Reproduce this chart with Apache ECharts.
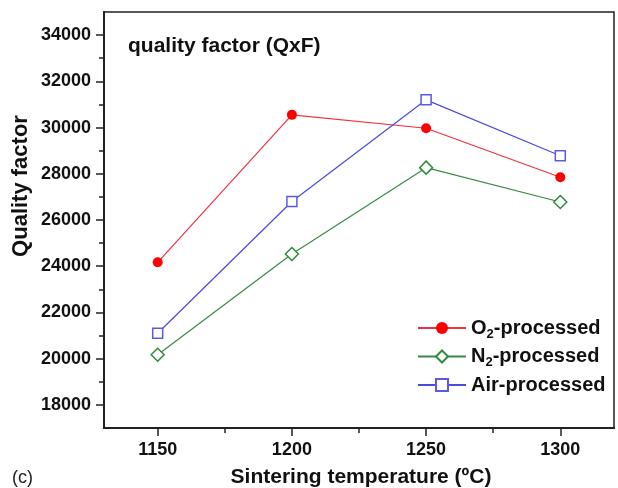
<!DOCTYPE html>
<html>
<head>
<meta charset="utf-8">
<script src="https://cdn.jsdelivr.net/npm/echarts@6/dist/echarts.min.js"></script>
<style>
    html, body { margin: 0; padding: 0; background: #fff; }
    #chart { width: 618px; height: 488px; }
</style>
</head>
<body>
<div id="chart"></div>
<script>
    // 烧结温度 (x 轴)
    let temperatures = [1150, 1200, 1250, 1300];
    // 三种气氛下的品质因数
    let o2Values = [24170, 30550, 29970, 27850];
    let n2Values = [20170, 24530, 28265, 26780];
    let airValues = [21100, 26800, 31200, 28780];

    // 刻度
    let xLabelTicks = [1150, 1200, 1250, 1300];
    let xMinorTicks = [1175, 1225, 1275];
    let yLabelTicks = [18000, 20000, 22000, 24000, 26000, 28000, 30000, 32000, 34000];
    let yMinorTicks = [19000, 21000, 23000, 25000, 27000, 29000, 31000, 33000];

    let font = 'Liberation Sans, Arial, Helvetica, sans-serif';

    function pairs(values) {
        return temperatures.map(function (t, i) { return [t, values[i]]; });
    }

    function plain(v) {
        return String(v);
    }

    let baseX = {
        type: 'value', min: 1130, max: 1320, position: 'bottom', offset: 0,
        splitLine: {show: false},
        axisLine: {show: true, onZero: false, lineStyle: {color: '#222', width: 2}}
    };
    let baseY = {
        type: 'value', min: 17000, max: 35000, position: 'left', offset: 0,
        splitLine: {show: false},
        axisLine: {show: true, onZero: false, lineStyle: {color: '#222', width: 2}}
    };

    let chart = echarts.init(document.getElementById('chart'), null, {renderer: 'canvas'});
    chart.setOption({
        animation: false,
        backgroundColor: '#fff',
        grid: {
            left: 104, right: 4, top: 12, bottom: 60,
            show: true, borderColor: '#222', borderWidth: 1.5
        },
        title: {
            text: 'quality factor (QxF)',
            left: 123, top: 31,
            textStyle: {fontFamily: font, fontSize: 21, fontWeight: 'bold', color: '#111'}
        },
        legend: {
            orient: 'vertical',
            left: 412, top: 313,
            itemWidth: 48, itemHeight: 15, itemGap: 6,
            textStyle: {
                fontFamily: font, fontSize: 20, fontWeight: 'bold', color: '#111',
                rich: {
                    sub: {fontFamily: font, fontSize: 13, fontWeight: 'bold', color: '#111', verticalAlign: 'bottom', padding: [12, 0, 0, 0]}
                }
            },
            formatter: function (name) {
                if (name === 'O2-processed') return 'O{sub|2}-processed';
                if (name === 'N2-processed') return 'N{sub|2}-processed';
                return name;
            },
            data: ['O2-processed', 'N2-processed', 'Air-processed']
        },
        xAxis: [
            Object.assign({}, baseX, {
                axisTick: {show: true, inside: false, length: 8, customValues: xLabelTicks, lineStyle: {color: '#222', width: 1.5}},
                axisLabel: {
                    show: true, margin: 13, customValues: xLabelTicks, formatter: plain,
                    fontFamily: font, fontSize: 18, fontWeight: 'bold', color: '#111'
                }
            }),
            Object.assign({}, baseX, {
                axisTick: {show: true, inside: false, length: 5, customValues: xMinorTicks, lineStyle: {color: '#222', width: 1.5}},
                axisLabel: {show: false}
            })
        ],
        yAxis: [
            Object.assign({}, baseY, {
                axisTick: {show: true, inside: false, length: 8, customValues: yLabelTicks, lineStyle: {color: '#222', width: 1.5}},
                axisLabel: {
                    show: true, margin: 13, customValues: yLabelTicks, formatter: plain,
                    fontFamily: font, fontSize: 18, fontWeight: 'bold', color: '#111'
                }
            }),
            Object.assign({}, baseY, {
                axisTick: {show: true, inside: false, length: 5, customValues: yMinorTicks, lineStyle: {color: '#222', width: 1.5}},
                axisLabel: {show: false}
            })
        ],
        graphic: [
            {
                type: 'text', x: 21, y: 186, rotation: Math.PI / 2,
                style: {
                    text: 'Quality factor', font: 'bold 22px ' + font, fill: '#111',
                    textAlign: 'center', textVerticalAlign: 'middle'
                }
            },
            {
                type: 'text', x: 361, y: 477,
                style: {
                    text: 'Sintering temperature (ºC)', font: 'bold 21px ' + font, fill: '#111',
                    textAlign: 'center', textVerticalAlign: 'middle'
                }
            },
            {
                type: 'text', x: 12, y: 478,
                style: {text: '(c)', font: '18px ' + font, fill: '#222', textVerticalAlign: 'middle'}
            }
        ],
        series: [
            {
                name: 'O2-processed', type: 'line', data: pairs(o2Values),
                symbol: 'circle', symbolSize: 10,
                itemStyle: {color: '#ff0000'},
                lineStyle: {color: '#ee3340', width: 1.2}
            },
            {
                name: 'N2-processed', type: 'line', data: pairs(n2Values),
                symbol: 'diamond', symbolSize: 13,
                itemStyle: {color: '#fff', borderColor: '#2e8b3a', borderWidth: 1.5},
                lineStyle: {color: '#3a8a44', width: 1.2}
            },
            {
                name: 'Air-processed', type: 'line', data: pairs(airValues),
                symbol: 'rect', symbolSize: 10,
                itemStyle: {color: '#fff', borderColor: '#5a5ae6', borderWidth: 1.5},
                lineStyle: {color: '#4a4ae0', width: 1.2}
            }
        ]
    });
</script>
</body>
</html>
